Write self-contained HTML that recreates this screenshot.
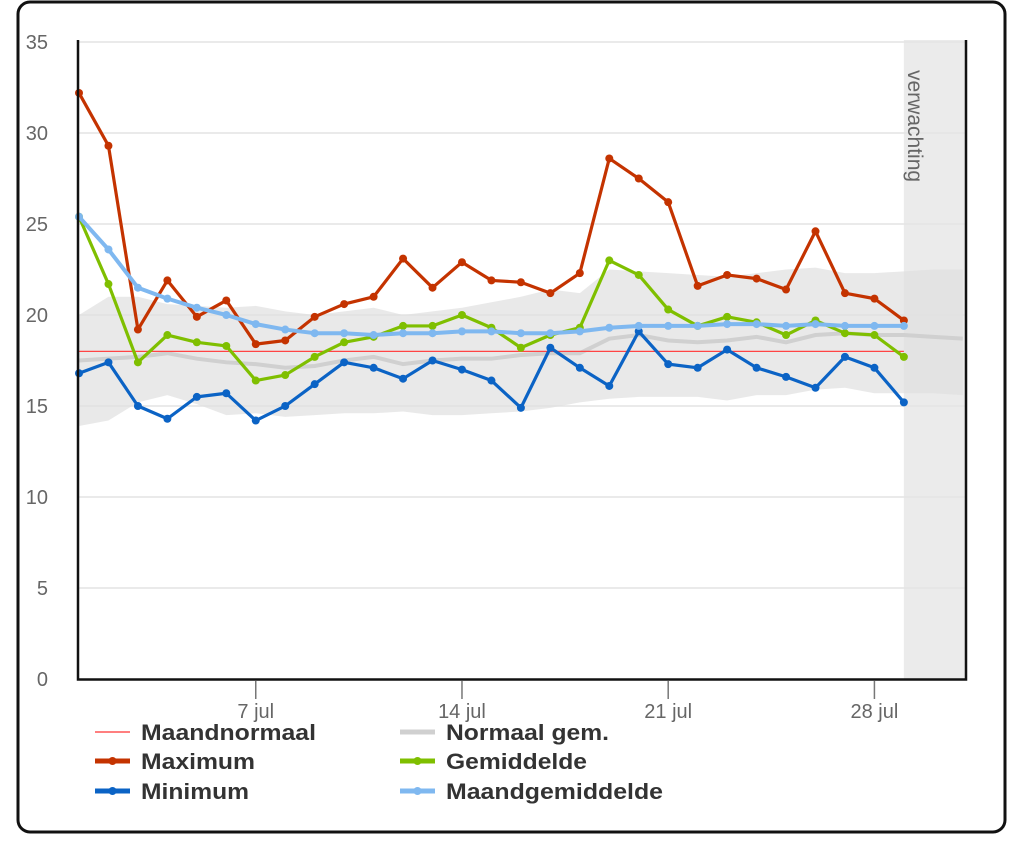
<!DOCTYPE html>
<html><head><meta charset="utf-8"><style>
html,body{margin:0;padding:0;background:#fff;width:1024px;height:845px;overflow:hidden;font-family:"Liberation Sans",sans-serif}
</style></head><body>
<svg width="1024" height="845" xmlns="http://www.w3.org/2000/svg">
<rect x="18" y="2" width="987" height="830" rx="12" fill="#fff" stroke="#111" stroke-width="3"/>
<g id="plot"></g>
</svg>
<script>
const days=[1,2,3,4,5,6,7,8,9,10,11,12,13,14,15,16,17,18,19,20,21,22,23,24,25,26,27,28,29];
const maxT=[32.2,29.3,19.2,21.9,19.9,20.8,18.4,18.6,19.9,20.6,21.0,23.1,21.5,22.9,21.9,21.8,21.2,22.3,28.6,27.5,26.2,21.6,22.2,22.0,21.4,24.6,21.2,20.9,19.7];
const meanT=[25.4,21.7,17.4,18.9,18.5,18.3,16.4,16.7,17.7,18.5,18.8,19.4,19.4,20.0,19.3,18.2,18.9,19.3,23.0,22.2,20.3,19.4,19.9,19.6,18.9,19.7,19.0,18.9,17.7];
const minT=[16.8,17.4,15.0,14.3,15.5,15.7,14.2,15.0,16.2,17.4,17.1,16.5,17.5,17.0,16.4,14.9,18.2,17.1,16.1,19.1,17.3,17.1,18.1,17.1,16.6,16.0,17.7,17.1,15.2];
const monthMean=[25.4,23.6,21.5,20.9,20.4,20.0,19.5,19.2,19.0,19.0,18.9,19.0,19.0,19.1,19.1,19.0,19.0,19.1,19.3,19.4,19.4,19.4,19.5,19.5,19.4,19.5,19.4,19.4,19.4];
const normDays=[1,2,3,4,5,6,7,8,9,10,11,12,13,14,15,16,17,18,19,20,21,22,23,24,25,26,27,28,29,30,31];
const normMean=[17.5,17.6,17.7,17.9,17.6,17.4,17.3,17.1,17.2,17.5,17.7,17.3,17.5,17.6,17.6,17.8,17.9,17.9,18.7,18.9,18.6,18.5,18.6,18.8,18.5,18.9,19.0,18.9,18.9,18.8,18.7];
const bandHigh=[20.0,21.0,21.0,20.6,20.5,20.4,20.5,20.2,20.0,20.2,20.4,20.0,20.2,20.4,20.7,21.0,21.4,21.2,22.5,22.4,22.3,22.2,22.1,22.3,22.5,22.6,22.3,22.3,22.4,22.5,22.5];
const bandLow=[13.9,14.2,15.2,15.6,15.1,14.5,14.6,14.4,14.5,14.6,14.6,14.7,14.5,14.5,14.6,14.7,14.9,15.2,15.4,15.5,15.5,15.5,15.3,15.6,15.6,15.9,16.0,15.7,15.7,15.7,15.6];
const monthNormal=18.0;
const yTicks=[0,5,10,15,20,25,30,35];
const xTickDays=[7,14,21,28];
const xTickLabels=["7 jul","14 jul","21 jul","28 jul"];

const NS="http://www.w3.org/2000/svg";
const g=document.getElementById('plot');
const X=d=>79+(d-1)*29.46;
const Y=v=>679-v*18.2;
function mk(tag,attrs,parent){const e=document.createElementNS(NS,tag);for(const k in attrs)e.setAttribute(k,attrs[k]);(parent||g).appendChild(e);return e;}

let fr=mk('rect',{x:X(29),y:40,width:966-X(29),height:639,fill:'#ebebeb'});


yTicks.forEach(t=>{
  if(t>0){let l=mk('line',{x1:79,x2:966,y1:Y(t),y2:Y(t),stroke:'#e4e4e4','stroke-width':1.5});
  
  }
  let tx=mk('text',{x:48,y:Y(t)+7,'text-anchor':'end','font-size':20,fill:'#666'});
  tx.textContent=t;
  
  
});
let bp=normDays.map((d,i)=>X(d)+','+Y(bandHigh[i])).join(' ')+' '+normDays.slice().reverse().map((d,j)=>{const i=normDays.length-1-j;return X(d)+','+Y(bandLow[i]);}).join(' ');
let band=mk('polygon',{points:bp,fill:'#e0e0e0','fill-opacity':0.7});


let nl=mk('polyline',{points:normDays.map((d,i)=>X(d)+','+Y(normMean[i])).join(' '),fill:'none',stroke:'#d0d0d0','stroke-width':4});


let mn=mk('line',{x1:X(1),x2:X(29),y1:Y(monthNormal),y2:Y(monthNormal),stroke:'#ff4444','stroke-width':1.3});


let vt=mk('text',{x:0,y:0,'font-size':21,fill:'#666',transform:'translate(908,70) rotate(90)'});
vt.textContent='verwachting';



function series(vals,color,name,w){
  let s=mk('g',{});
  
  
  mk('polyline',{points:days.map((d,i)=>X(d)+','+Y(vals[i])).join(' '),fill:'none',stroke:color,'stroke-width':w,'stroke-linejoin':'round'},s);
  days.forEach((d,i)=>{let c=mk('circle',{cx:X(d),cy:Y(vals[i]),r:4,fill:color},s);
    
    });
}
series(minT,'#0b63c5','minimum-series',3.2);
series(maxT,'#c43300','maximum-series',3.2);
series(meanT,'#7fbf00','gemiddelde-series',3.2);
series(monthMean,'#7fb8f0','maandgemiddelde-series',4);

let ax=mk('path',{d:'M78,40 V679.5 H966 V40',fill:'none',stroke:'#111','stroke-width':2.5});


xTickDays.forEach((d,i)=>{
  let t=mk('line',{x1:X(d),x2:X(d),y1:681,y2:699,stroke:'#777','stroke-width':1.5});
  
  
  let tx=mk('text',{x:X(d),y:718,'text-anchor':'middle','font-size':20,fill:'#666'});
  tx.textContent=xTickLabels[i];
  
  
});

const legend=[
 ['Maandnormaal','#ff5555',1.5,false,95,732,175],
 ['Normaal gem.','#d0d0d0',5,false,400,732,163],
 ['Maximum','#c43300',5,true,95,761,114],
 ['Gemiddelde','#7fbf00',5,true,400,761,141],
 ['Minimum','#0b63c5',5,true,95,791,108],
 ['Maandgemiddelde','#7fb8f0',5,true,400,791,217]
];
legend.forEach(l=>{
  let e=mk('g',{});
  
  
  mk('line',{x1:l[4],x2:l[4]+35,y1:l[5],y2:l[5],stroke:l[1],'stroke-width':l[2]},e);
  if(l[3])mk('circle',{cx:l[4]+17.5,cy:l[5],r:4,fill:l[1]},e);
  let t=mk('text',{x:l[4]+46,y:l[5]+8,'font-size':22,'font-weight':'bold',fill:'#333',textLength:l[6],lengthAdjust:'spacingAndGlyphs'},e);
  t.textContent=l[0];
});
</script>
</body></html>
